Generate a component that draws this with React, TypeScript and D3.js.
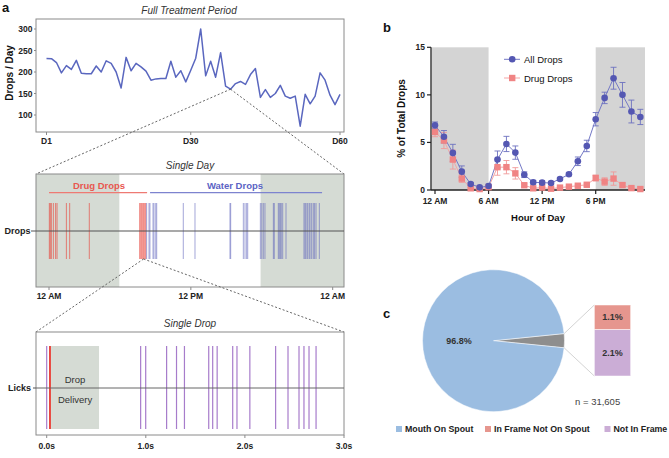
import React from 'react';
import * as d3 from 'd3';

const FONT = "'Liberation Sans', Arial, Helvetica, sans-serif";

// ---- Panel a: full treatment period ----
const dayTicks = [1, 30, 60];
const dayTickLabels = ['D1', 'D30', 'D60'];
const dropsTicks = [100, 150, 200, 250, 300];
const dropsPerDay = [231.5, 231, 222, 198, 215, 206, 227, 197, 196, 196, 214, 200, 226, 220, 200, 163, 234, 203, 220, 212, 202, 181, 184, 185, 185, 225, 188, 203, 177, 204, 232, 300, 191, 225, 188, 245, 167, 160, 173, 178, 171, 194, 208, 141, 159, 141, 150, 169, 144, 139, 144, 74, 148, 126, 144, 198, 181, 146, 124, 148];
const zoomDay = 38;

// ---- Panel a: single day (hours) ----
const dayHourTicks = [0, 12, 24];
const dayHourLabels = ['12 AM', '12 PM', '12 AM'];
const drugDropTimes = [0.03, 0.11, 0.2, 0.37, 0.56, 0.68, 1.47, 1.75, 3.41, 7.67, 7.76, 7.84, 7.93, 8.01, 8.1, 8.18];
const waterDropTimes = [8.26, 8.46, 8.54, 8.8, 8.88, 9.03, 9.11, 11.36, 12.35, 15.31, 15.37, 16.44, 16.58, 16.72, 16.81, 17.88, 18.0, 18.13, 18.27, 18.98, 19.06, 19.4, 19.48, 19.57, 19.65, 19.77, 20.05, 21.57, 21.66, 21.74, 21.86, 22.0, 22.08, 22.22, 22.36, 22.47, 22.59, 22.87];
const darkPeriods = [[-1.1, 5.95], [17.9, 25.1]];
const zoomHour = 8.0;

// ---- Panel a: single drop (seconds) ----
const secTicks = [0, 1, 2, 3];
const secLabels = ['0.0s', '1.0s', '2.0s', '3.0s'];
const lickTimes = [0.0, 0.948, 0.999, 1.21, 1.31, 1.39, 1.635, 1.675, 1.72, 1.877, 1.92, 2.05, 2.31, 2.435, 2.546, 2.596, 2.647, 2.718];
const dropTime = [0.033];
const deliveryWindow = [0.044, 0.528];

// ---- Panel b ----
const hours = [0, 1, 2, 3, 4, 5, 6, 7, 8, 9, 10, 11, 12, 13, 14, 15, 16, 17, 18, 19, 20, 21, 22, 23];
const hourTicks = [0, 6, 12, 18];
const hourTickLabels = ['12 AM', '6 AM', '12 PM', '6 PM'];
const pctTicks = [0, 5, 10, 15];
const allDrops = [6.8, 5.6, 3.9, 1.93, 0.63, 0.28, 0.42, 3.2, 4.84, 3.93, 1.61, 0.81, 0.77, 0.74, 1.16, 1.65, 3.02, 4.63, 7.44, 9.68, 11.75, 10.0, 8.25, 7.68];
const allDropsErr = [0.35, 0.65, 0.9, 0.6, 0.15, 0.1, 0.2, 0.9, 0.8, 0.7, 0.3, 0.2, 0.2, 0.15, 0.15, 0.15, 0.45, 0.6, 0.7, 0.6, 1.15, 1.3, 1.2, 0.8];
const drugDrops = [6.1, 5.2, 3.2, 1.2, 0.18, 0.1, 0.3, 2.4, 2.4, 1.75, 0.5, 0.18, 0.25, 0.14, 0.25, 0.35, 0.45, 0.55, 1.26, 0.88, 1.2, 0.52, 0.2, 0.1];
const drugDropsErr = [0.5, 0.85, 1.0, 0.4, 0.1, 0.08, 0.1, 0.85, 0.7, 0.6, 0.15, 0.1, 0.1, 0.08, 0.1, 0.1, 0.1, 0.15, 0.3, 0.4, 0.7, 0.2, 0.1, 0.1];
const lightPeriodsB = [[0, 6], [18, 24]];

// ---- Panel c ----
const pieLabels = ['Mouth On Spout', 'In Frame Not On Spout', 'Not In Frame'];
const pieValues = [96.8, 1.1, 2.1];
const totalN = '31,605';

export default function App() {
  // Panel a top
  const xDay = d3.scaleLinear().domain([1, 60]).range([46.5, 340]);
  const yDrops = d3.scaleLinear().domain([100, 300]).range([115, 29]);
  const dropLine = d3.line<number>().x((_, i) => xDay(i + 1)).y((d) => yDrops(d))(dropsPerDay) || '';
  const zx = xDay(zoomDay);
  const zy = yDrops(dropsPerDay[zoomDay - 1]);

  // single day
  const xHour = d3.scaleLinear().domain([0, 24]).range([49, 332.7]);
  const sdTop = 174, sdBot = 287, sdMid = 231, evTop = 203, evBot = 259;

  // single drop
  const xSec = d3.scaleLinear().domain([0, 3]).range([46.7, 344]);
  const dTop = 332, dBot = 435, dMid = 388, lkTop = 346, lkBot = 429;

  // panel b
  const xH = d3.scaleLinear().domain([0, 18]).range([435, 595.7]);
  const yP = d3.scaleLinear().domain([0, 15]).range([190, 47.3]);
  const allLine = d3.line<number>().x((_, i) => xH(hours[i])).y((d) => yP(d))(allDrops) || '';
  const drugLine = d3.line<number>().x((_, i) => xH(hours[i])).y((d) => yP(d))(drugDrops) || '';

  // panel c
  const cx = 493.5, cy = 340.7, r = 71;
  const otherTotal = pieValues[1] + pieValues[2];
  const half = (otherTotal / 100) * Math.PI;
  const pieGen = d3.pie<number>().sort(null).startAngle(Math.PI / 2 - half).endAngle(Math.PI / 2 - half + 2 * Math.PI);
  const arcs = pieGen([otherTotal, pieValues[0]]);
  const arcGen = d3.arc<d3.PieArcDatum<number>>().innerRadius(0).outerRadius(r);
  const yBar = d3.scaleLinear().domain([0, otherTotal]).range([376, 305]);
  const barX0 = 594.3, barX1 = 630.7;
  const a1 = Math.PI / 2 - half, a2 = Math.PI / 2 + half;
  const p1 = [cx + r * Math.sin(a1), cy - r * Math.cos(a1)];
  const p2 = [cx + r * Math.sin(a2), cy - r * Math.cos(a2)];

  const boxStroke = '#8a8a8a';
  const blueLine = '#5a67bf';
  const red = '#e8483f';
  const waterBlue = '#5a5fbb';
  const purple = '#a77ccb';
  const dayGray = '#d5dbd4';

  const bold = { fontWeight: 700 } as const;

  return (
    <svg width={669} height={458} style={{ position: 'absolute', left: 0, top: 0, fontFamily: FONT }}>
      <rect x={0} y={0} width={669} height={458} fill="#fff" />
      {/* Panel letters */}
      <text x={2} y={12} fontSize={13} {...bold} fill="#111">a</text>
      <text x={383} y={32} fontSize={13} {...bold} fill="#111">b</text>
      <text x={383} y={318} fontSize={13} {...bold} fill="#111">c</text>

      {/* ===== Full treatment period ===== */}
      <text x={189} y={10} fontSize={10} fontStyle="italic" textAnchor="middle" dominantBaseline="central" fill="#333">Full Treatment Period</text>
      <rect x={36} y={19} width={308} height={113} fill="none" stroke={boxStroke} strokeWidth={1} />
      {dropsTicks.map((t) => (
        <g key={t}>
          <line x1={34} x2={36} y1={yDrops(t)} y2={yDrops(t)} stroke={boxStroke} />
          <text x={32.5} y={yDrops(t)} fontSize={8.5} {...bold} textAnchor="end" dominantBaseline="central" fill="#222">{t}</text>
        </g>
      ))}
      {dayTicks.map((t, i) => (
        <g key={t}>
          <line x1={xDay(t)} x2={xDay(t)} y1={132} y2={135} stroke={boxStroke} />
          <text x={xDay(t)} y={141} fontSize={8.5} {...bold} textAnchor="middle" dominantBaseline="central" fill="#222">{dayTickLabels[i]}</text>
        </g>
      ))}
      <text transform="translate(9,73) rotate(-90)" fontSize={10} {...bold} textAnchor="middle" dominantBaseline="central" fill="#111">Drops / Day</text>
      <path d={dropLine} fill="none" stroke={blueLine} strokeWidth={1.5} strokeLinejoin="round" />

      {/* zoom connectors */}
      <line x1={zx} y1={zy} x2={36} y2={sdTop} stroke="#555" strokeDasharray="2,2" strokeWidth={0.9} />
      <line x1={zx} y1={zy} x2={344} y2={sdTop} stroke="#555" strokeDasharray="2,2" strokeWidth={0.9} />

      {/* ===== Single day ===== */}
      <text x={190} y={165} fontSize={10} fontStyle="italic" textAnchor="middle" dominantBaseline="central" fill="#333">Single Day</text>
      {darkPeriods.map((p, i) => (
        <rect key={i} x={Math.max(36, xHour(p[0]))} y={sdTop} width={Math.min(344, xHour(p[1])) - Math.max(36, xHour(p[0]))} height={sdBot - sdTop} fill={dayGray} />
      ))}
      <rect x={36} y={sdTop} width={308} height={sdBot - sdTop} fill="none" stroke={boxStroke} strokeWidth={1} />
      <text x={99} y={185} fontSize={9.5} {...bold} fill="#e8574f" textAnchor="middle" dominantBaseline="central">Drug Drops</text>
      <line x1={xHour(0)} x2={xHour(8.3)} y1={192.7} y2={192.7} stroke="#ee7a73" strokeWidth={1.2} />
      <text x={235} y={185} fontSize={9.5} {...bold} fill="#5b63c4" textAnchor="middle" dominantBaseline="central">Water Drops</text>
      <line x1={xHour(8.55)} x2={xHour(23.1)} y1={192.7} y2={192.7} stroke="#7d83cf" strokeWidth={1.2} />
      {drugDropTimes.map((t, i) => (
        <line key={'d' + i} x1={xHour(t)} x2={xHour(t)} y1={evTop} y2={evBot} stroke={red} strokeWidth={1} opacity={0.65} />
      ))}
      {waterDropTimes.map((t, i) => (
        <line key={'w' + i} x1={xHour(t)} x2={xHour(t)} y1={evTop} y2={evBot} stroke={waterBlue} strokeWidth={1} opacity={0.55} />
      ))}
      <line x1={36} x2={344} y1={sdMid} y2={sdMid} stroke="#555" strokeWidth={1.2} />
      <line x1={31} x2={36} y1={sdMid} y2={sdMid} stroke="#555" />
      <text x={30.5} y={sdMid} fontSize={9} {...bold} textAnchor="end" dominantBaseline="central" fill="#222">Drops</text>
      {dayHourTicks.map((t, i) => (
        <g key={i}>
          <line x1={xHour(t)} x2={xHour(t)} y1={sdBot} y2={sdBot + 3} stroke={boxStroke} />
          <text x={xHour(t)} y={296} fontSize={8.5} {...bold} textAnchor="middle" dominantBaseline="central" fill="#222">{dayHourLabels[i]}</text>
        </g>
      ))}

      {/* zoom connectors 2 */}
      <line x1={xHour(zoomHour)} y1={evBot} x2={36} y2={dTop} stroke="#555" strokeDasharray="2,2" strokeWidth={0.9} />
      <line x1={xHour(zoomHour)} y1={evBot} x2={344} y2={dTop} stroke="#555" strokeDasharray="2,2" strokeWidth={0.9} />

      {/* ===== Single drop ===== */}
      <text x={190} y={323} fontSize={10} fontStyle="italic" textAnchor="middle" dominantBaseline="central" fill="#333">Single Drop</text>
      <rect x={36} y={dTop} width={308} height={dBot - dTop} fill="none" stroke={boxStroke} strokeWidth={1} />
      <rect x={xSec(deliveryWindow[0])} y={lkTop} width={xSec(deliveryWindow[1]) - xSec(deliveryWindow[0])} height={lkBot - lkTop} fill={dayGray} />
      <text x={(xSec(deliveryWindow[0]) + xSec(deliveryWindow[1])) / 2} y={379.5} fontSize={9.5} textAnchor="middle" dominantBaseline="central" fill="#333">Drop</text>
      <text x={(xSec(deliveryWindow[0]) + xSec(deliveryWindow[1])) / 2} y={399.5} fontSize={9.5} textAnchor="middle" dominantBaseline="central" fill="#333">Delivery</text>
      {lickTimes.map((t, i) => (
        <line key={'l' + i} x1={xSec(t)} x2={xSec(t)} y1={lkTop} y2={lkBot} stroke={purple} strokeWidth={1.2} />
      ))}
      {dropTime.map((t, i) => (
        <line key={'r' + i} x1={xSec(t)} x2={xSec(t)} y1={lkTop} y2={lkBot} stroke={red} strokeWidth={2} />
      ))}
      <line x1={36} x2={344} y1={dMid} y2={dMid} stroke="#666" strokeWidth={1} />
      <line x1={33} x2={36} y1={dMid} y2={dMid} stroke="#555" />
      <text x={31} y={dMid} fontSize={9} {...bold} textAnchor="end" dominantBaseline="central" fill="#222">Licks</text>
      {secTicks.map((t, i) => (
        <g key={i}>
          <line x1={xSec(t)} x2={xSec(t)} y1={dBot} y2={dBot + 3} stroke={boxStroke} />
          <text x={xSec(t)} y={446} fontSize={8.5} {...bold} textAnchor="middle" dominantBaseline="central" fill="#222">{secLabels[i]}</text>
        </g>
      ))}

      {/* ===== Panel b ===== */}
      {lightPeriodsB.map((p, i) => (
        <rect key={i} x={xH(p[0]) - (i === 0 ? 3.5 : 0)} y={yP(15)} width={Math.min(xH(p[1]), 645) - xH(p[0]) + (i === 0 ? 3.5 : 0)} height={yP(0) - yP(15)} fill="#d4d4d4" />
      ))}
      <line x1={431} x2={431} y1={yP(15)} y2={yP(0)} stroke="#222" strokeWidth={1.3} />
      <line x1={431} x2={645} y1={yP(0)} y2={yP(0)} stroke="#222" strokeWidth={1.3} />
      {pctTicks.map((t) => (
        <g key={t}>
          <line x1={427} x2={431} y1={yP(t)} y2={yP(t)} stroke="#222" strokeWidth={1.2} />
          <text x={425} y={yP(t)} fontSize={8.5} {...bold} textAnchor="end" dominantBaseline="central" fill="#222">{t}</text>
        </g>
      ))}
      {hourTicks.map((t, i) => (
        <g key={t}>
          <line x1={xH(t)} x2={xH(t)} y1={yP(0)} y2={yP(0) + 4} stroke="#222" strokeWidth={1.2} />
          <text x={xH(t)} y={201} fontSize={8.5} {...bold} textAnchor="middle" dominantBaseline="central" fill="#222">{hourTickLabels[i]}</text>
        </g>
      ))}
      <text transform="translate(401.5,118.5) rotate(-90)" fontSize={10} {...bold} textAnchor="middle" dominantBaseline="central" fill="#111">% of Total Drops</text>
      <text x={538} y={217} fontSize={9.5} {...bold} textAnchor="middle" dominantBaseline="central" fill="#111">Hour of Day</text>

      {/* drug series */}
      <path d={drugLine} fill="none" stroke="#f4a5a5" strokeWidth={1} />
      {drugDrops.map((v, i) => (
        <g key={'de' + i}>
          <line x1={xH(hours[i])} x2={xH(hours[i])} y1={yP(v - drugDropsErr[i])} y2={yP(v + drugDropsErr[i])} stroke="#f09a9a" strokeWidth={0.9} />
          <line x1={xH(hours[i]) - 3} x2={xH(hours[i]) + 3} y1={yP(v + drugDropsErr[i])} y2={yP(v + drugDropsErr[i])} stroke="#f09a9a" strokeWidth={0.9} />
          <line x1={xH(hours[i]) - 3} x2={xH(hours[i]) + 3} y1={yP(Math.max(0, v - drugDropsErr[i]))} y2={yP(Math.max(0, v - drugDropsErr[i]))} stroke="#f09a9a" strokeWidth={0.9} />
        </g>
      ))}
      {/* all series */}
      <path d={allLine} fill="none" stroke="#7378c6" strokeWidth={1} />
      {allDrops.map((v, i) => (
        <g key={'ae' + i}>
          <line x1={xH(hours[i])} x2={xH(hours[i])} y1={yP(v - allDropsErr[i])} y2={yP(v + allDropsErr[i])} stroke="#6c70c0" strokeWidth={0.9} />
          <line x1={xH(hours[i]) - 3} x2={xH(hours[i]) + 3} y1={yP(v + allDropsErr[i])} y2={yP(v + allDropsErr[i])} stroke="#6c70c0" strokeWidth={0.9} />
          <line x1={xH(hours[i]) - 3} x2={xH(hours[i]) + 3} y1={yP(v - allDropsErr[i])} y2={yP(v - allDropsErr[i])} stroke="#6c70c0" strokeWidth={0.9} />
        </g>
      ))}
      {drugDrops.map((v, i) => (
        <rect key={'ds' + i} x={xH(hours[i]) - 3.2} y={yP(v) - 3.2} width={6.4} height={6.4} fill="#f08484" />
      ))}
      {allDrops.map((v, i) => (
        <circle key={'ac' + i} cx={xH(hours[i])} cy={yP(v)} r={3.3} fill="#5457b2" />
      ))}
      {/* legend b */}
      <line x1={504} x2={520} y1={59.3} y2={59.3} stroke="#7378c6" strokeWidth={1} />
      <circle cx={512.2} cy={59.3} r={3.3} fill="#5457b2" />
      <text x={524} y={59.5} fontSize={9.5} dominantBaseline="central" fill="#111">All Drops</text>
      <line x1={504} x2={520} y1={78} y2={78} stroke="#f4a5a5" strokeWidth={1} />
      <rect x={512.2 - 3.2} y={78 - 3.2} width={6.4} height={6.4} fill="#f08484" />
      <text x={524} y={78.2} fontSize={9.5} dominantBaseline="central" fill="#111">Drug Drops</text>

      {/* ===== Panel c ===== */}
      {arcs.map((a, i) => (
        <path key={i} d={arcGen(a) || ''} transform={`translate(${cx},${cy})`} fill={i === 0 ? '#8e8e8e' : '#9bbde1'} stroke="#fff" strokeWidth={0.5} />
      ))}
      <line x1={p1[0]} y1={p1[1]} x2={barX0} y2={yBar(otherTotal)} stroke="#c8c8c8" strokeWidth={0.8} />
      <line x1={p2[0]} y1={p2[1]} x2={barX0} y2={yBar(0)} stroke="#c8c8c8" strokeWidth={0.8} />
      <rect x={barX0} y={yBar(pieValues[2])} width={barX1 - barX0} height={yBar(0) - yBar(pieValues[2])} fill="#cbadd6" stroke="#fff" strokeWidth={0.5} />
      <rect x={barX0} y={yBar(otherTotal)} width={barX1 - barX0} height={yBar(pieValues[2]) - yBar(otherTotal)} fill="#e6968e" stroke="#fff" strokeWidth={0.5} />
      <text x={(barX0 + barX1) / 2} y={(yBar(pieValues[2]) + yBar(otherTotal)) / 2} fontSize={9} {...bold} textAnchor="middle" dominantBaseline="central" fill="#333">{pieValues[1].toFixed(1)}%</text>
      <text x={(barX0 + barX1) / 2} y={(yBar(0) + yBar(pieValues[2])) / 2} fontSize={9} {...bold} textAnchor="middle" dominantBaseline="central" fill="#333">{pieValues[2].toFixed(1)}%</text>
      <text x={459} y={341} fontSize={9} {...bold} textAnchor="middle" dominantBaseline="central" fill="#333">{pieValues[0].toFixed(1)}%</text>
      <text x={575} y={401} fontSize={9.5} dominantBaseline="central" fill="#444">n = {totalN}</text>
      {pieLabels.map((lab, i) => {
        const xs = [396, 485, 604.5];
        const cols = ['#9bbde1', '#e6968e', '#cbadd6'];
        return (
          <g key={lab}>
            <rect x={xs[i]} y={426} width={6} height={6} fill={cols[i]} />
            <text x={xs[i] + 9} y={429.3} fontSize={8.8} {...bold} dominantBaseline="central" fill="#222">{lab}</text>
          </g>
        );
      })}
    </svg>
  );
}
